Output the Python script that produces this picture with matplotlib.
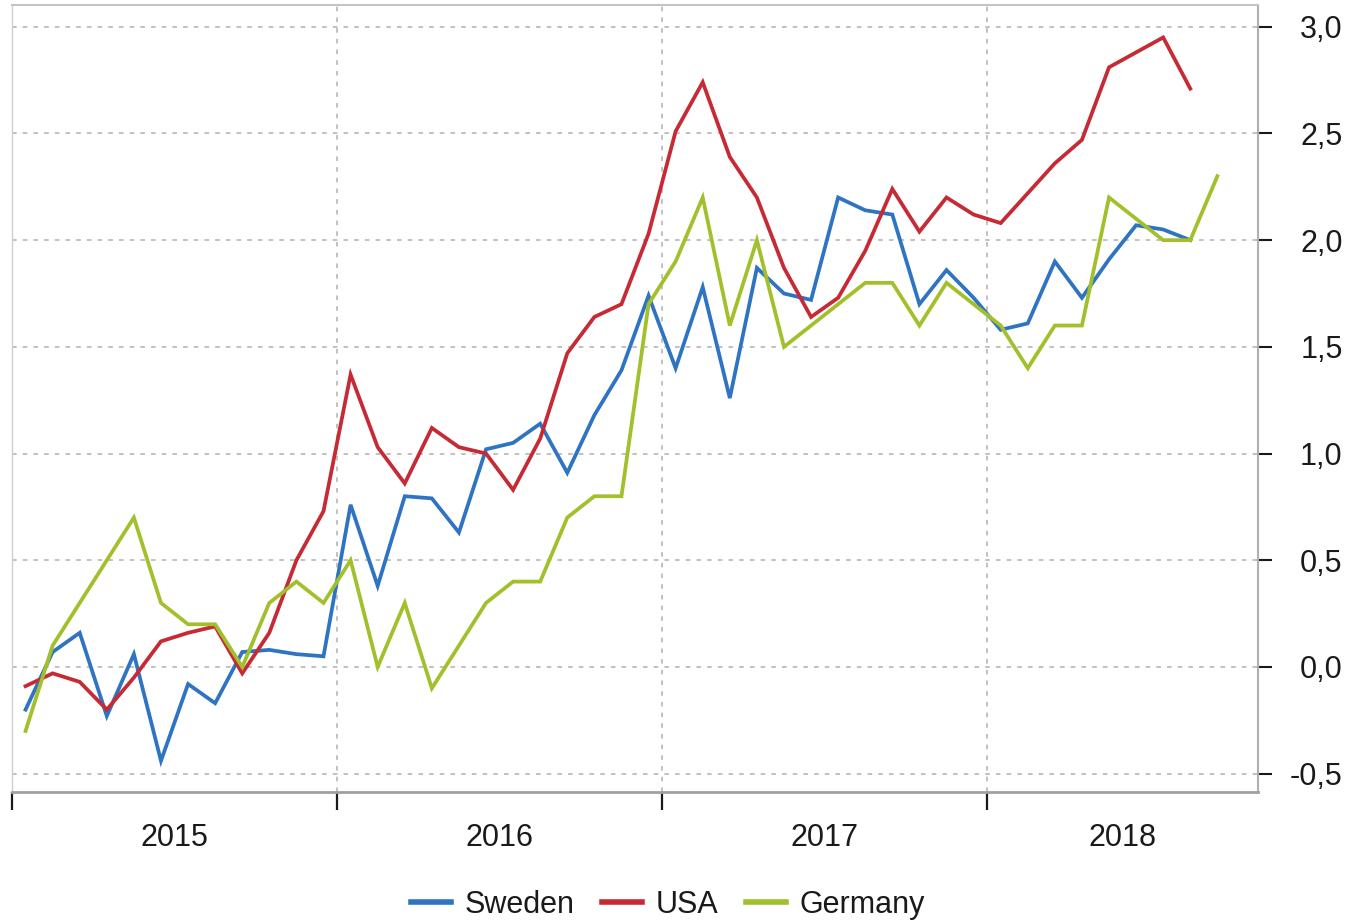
import numpy as np
import matplotlib
matplotlib.use("Agg")
import matplotlib.pyplot as plt
from matplotlib.ticker import FixedLocator, FuncFormatter

plt.rcParams['font.family'] = ['Liberation Sans', 'DejaVu Sans']

# ---- data (monthly, starting Jan 2015) ----
years = ["2015", "2016", "2017", "2018"]
sweden = [-0.20, 0.07, 0.16, -0.23, 0.06, -0.44, -0.08, -0.17, 0.07, 0.08, 0.06, 0.05,
          0.76, 0.38, 0.80, 0.79, 0.63, 1.02, 1.05, 1.14, 0.91, 1.18, 1.39, 1.74,
          1.40, 1.78, 1.26, 1.87, 1.75, 1.72, 2.20, 2.14, 2.12, 1.70, 1.86, 1.73,
          1.58, 1.61, 1.90, 1.73, 1.91, 2.07, 2.05, 2.00]
usa = [-0.09, -0.03, -0.07, -0.20, -0.05, 0.12, 0.16, 0.19, -0.03, 0.16, 0.50, 0.73,
       1.37, 1.03, 0.86, 1.12, 1.03, 1.00, 0.83, 1.07, 1.47, 1.64, 1.70, 2.03,
       2.51, 2.74, 2.39, 2.20, 1.87, 1.64, 1.73, 1.95, 2.24, 2.04, 2.20, 2.12,
       2.08, 2.22, 2.36, 2.47, 2.81, 2.88, 2.95, 2.71]
germany = [-0.3, 0.1, 0.3, 0.5, 0.7, 0.3, 0.2, 0.2, 0.0, 0.3, 0.4, 0.3,
           0.5, 0.0, 0.3, -0.1, 0.1, 0.3, 0.4, 0.4, 0.7, 0.8, 0.8, 1.7,
           1.9, 2.2, 1.6, 2.0, 1.5, 1.6, 1.7, 1.8, 1.8, 1.6, 1.8, 1.7,
           1.6, 1.4, 1.6, 1.6, 2.2, 2.1, 2.0, 2.0, 2.3]
series_names = ["Sweden", "USA", "Germany"]
colors = ["#2f73c3", "#c62a35", "#a1c02b"]
y_ticks = [-0.5, 0.0, 0.5, 1.0, 1.5, 2.0, 2.5, 3.0]

fig = plt.figure(figsize=(13.5, 9.23), dpi=100)
ax = fig.add_axes([12 / 1350, 131 / 923, (1258 - 12) / 1350, (918 - 131) / 923])

for vals, name, c in zip([sweden, usa, germany], series_names, colors):
    x = np.arange(len(vals)) + 0.5
    ax.plot(x, vals, color=c, lw=2.7, label=name, solid_joinstyle='miter')

ax.set_xlim(0, 46)
ax.set_ylim(-0.586, 3.102)

# y axis on right, right-aligned labels
ax.yaxis.tick_right()
ax.set_yticks(y_ticks)
ax.yaxis.set_major_formatter(FuncFormatter(lambda v, p: f"{v:.1f}".replace(".", ",")))
ax.tick_params(axis='y', direction='out', length=10, width=1.5, color='#1a1a1a',
               pad=51, labelsize=22, labelcolor='#1a1a1a')
for lab in ax.get_yticklabels():
    lab.set_horizontalalignment('right')

# x axis: year boundaries as major ticks, labels in the middle
ax.xaxis.set_major_locator(FixedLocator([0, 12, 24, 36]))
ax.xaxis.set_major_formatter(FuncFormatter(lambda v, p: ""))
ax.xaxis.set_minor_locator(FixedLocator([6, 18, 30, 41]))
ax.set_xticklabels(years, minor=True)
ax.tick_params(axis='x', which='major', direction='out', length=13, width=1.6, color='#1a1a1a')
ax.tick_params(axis='x', which='minor', length=0, pad=22, labelsize=22, labelcolor='#1a1a1a')

ax.grid(True, which='major', color='#b0b0b0', linestyle=(0, (3, 4)), linewidth=1.1)

for side, col, lw in [('top', '#c4c4c4', 1.5), ('right', '#b0b0b0', 1.5),
                      ('left', '#d0d0d0', 1.0), ('bottom', '#a0a0a0', 2.0)]:
    ax.spines[side].set_color(col)
    ax.spines[side].set_linewidth(lw)

fig.legend(loc='center', bbox_to_anchor=(0.495, 0.02), ncol=3, frameon=False,
           fontsize=22, handlelength=1.3, handletextpad=0.45, columnspacing=0.9,
           labelcolor='#1a1a1a')
for line in fig.legends[0].get_lines():
    line.set_linewidth(4)

fig.savefig("out.png", dpi=100)
